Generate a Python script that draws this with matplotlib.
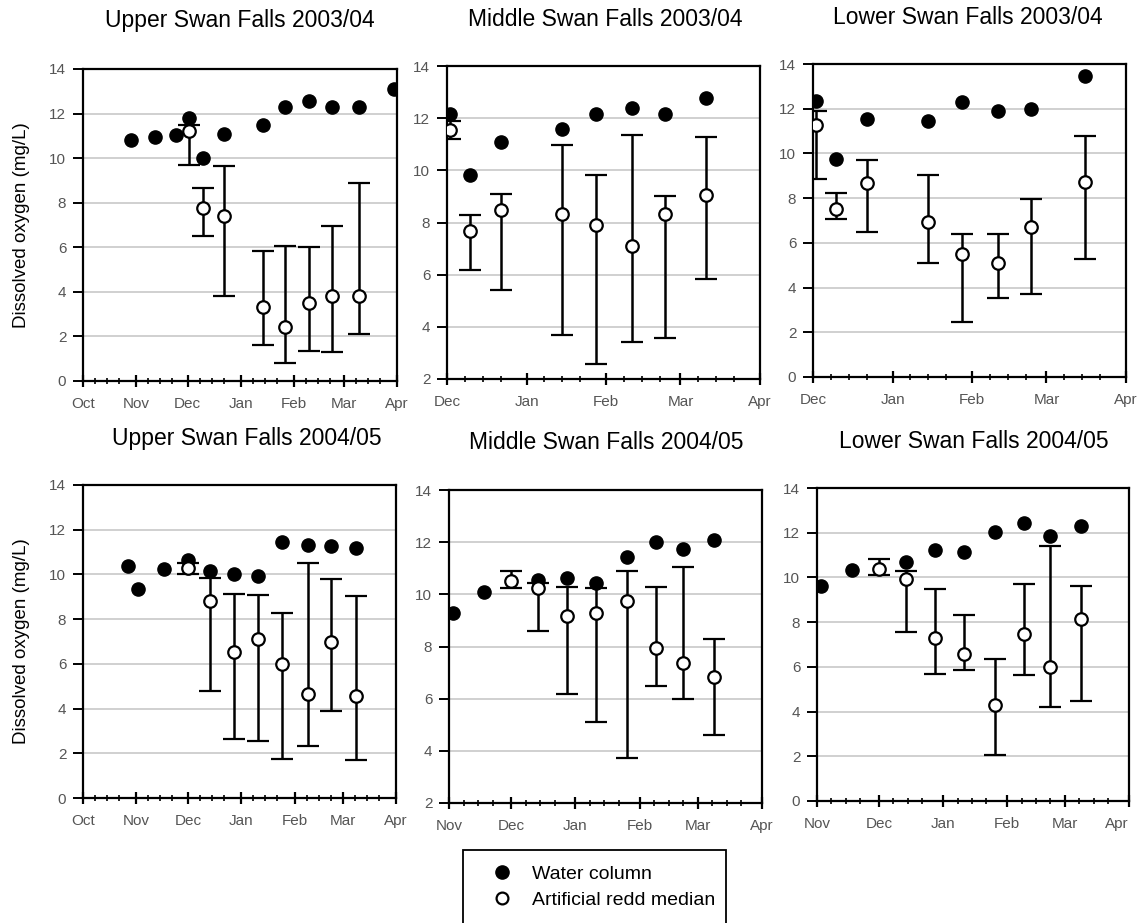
import numpy as np
import pandas as pd
import matplotlib
matplotlib.use('Agg')
import matplotlib.pyplot as plt
import matplotlib.dates as mdates
from matplotlib.lines import Line2D
from matplotlib.patches import Rectangle

plt.rcParams['font.family'] = ['Liberation Sans', 'DejaVu Sans']

# Upper Swan Falls 2003/04
us1_wc_dates = ['2003-10-29', '2003-11-12', '2003-11-24', '2003-12-02', '2003-12-10', '2003-12-22',
                '2004-01-14', '2004-01-27', '2004-02-10', '2004-02-23', '2004-03-10', '2004-03-30']
us1_wc = [10.8, 10.95, 11.05, 11.8, 10.0, 11.1, 11.5, 12.28, 12.55, 12.28, 12.28, 13.1]
us1_rd_dates = ['2003-12-02', '2003-12-10', '2003-12-22', '2004-01-14', '2004-01-27', '2004-02-10',
                '2004-02-23', '2004-03-10']
us1_rd = [11.2, 7.75, 7.42, 3.33, 2.43, 3.48, 3.81, 3.81]
us1_lo = [9.7, 6.5, 3.82, 1.62, 0.8, 1.36, 1.3, 2.1]
us1_hi = [11.5, 8.68, 9.65, 5.83, 6.07, 6.0, 6.97, 8.9]

# Middle Swan Falls 2003/04
ms1_wc_dates = ['2003-12-02', '2003-12-10', '2003-12-22', '2004-01-15', '2004-01-28', '2004-02-11',
                '2004-02-24', '2004-03-11']
ms1_wc = [12.17, 9.84, 11.1, 11.6, 12.15, 12.39, 12.17, 12.77]
ms1_rd_dates = ms1_wc_dates
ms1_rd = [11.54, 7.66, 8.47, 8.31, 7.92, 7.11, 8.32, 9.05]
ms1_lo = [11.19, 6.17, 5.42, 3.67, 2.59, 3.43, 3.58, 5.83]
ms1_hi = [11.9, 8.29, 9.09, 10.99, 9.81, 11.35, 9.01, 11.28]

# Lower Swan Falls 2003/04
ls1_wc_dates = ['2003-12-02', '2003-12-10', '2003-12-22', '2004-01-15', '2004-01-28', '2004-02-11',
                '2004-02-24', '2004-03-16']
ls1_wc = [12.36, 9.76, 11.53, 11.47, 12.3, 11.91, 12.0, 13.45]
ls1_rd_dates = ls1_wc_dates
ls1_rd = [11.28, 7.5, 8.67, 6.92, 5.51, 5.11, 6.72, 8.7]
ls1_lo = [8.85, 7.07, 6.5, 5.11, 2.44, 3.54, 3.71, 5.3]
ls1_hi = [11.9, 8.25, 9.71, 9.02, 6.38, 6.39, 7.98, 10.76]

# Upper Swan Falls 2004/05
us2_wc_dates = ['2004-10-27', '2004-11-02', '2004-11-17', '2004-12-01', '2004-12-14', '2004-12-28',
                '2005-01-11', '2005-01-25', '2005-02-09', '2005-02-22', '2005-03-09']
us2_wc = [10.37, 9.33, 10.24, 10.64, 10.16, 10.01, 9.91, 11.45, 11.3, 11.25, 11.16]
us2_rd_dates = ['2004-12-01', '2004-12-14', '2004-12-28', '2005-01-11', '2005-01-25', '2005-02-09',
                '2005-02-22', '2005-03-09']
us2_rd = [10.27, 8.82, 6.55, 7.12, 5.99, 4.64, 6.96, 4.55]
us2_lo = [10.0, 4.79, 2.64, 2.54, 1.76, 2.31, 3.91, 1.69]
us2_hi = [10.5, 9.82, 9.13, 9.07, 8.28, 10.49, 9.78, 9.03]

# Middle Swan Falls 2004/05
ms2_wc_dates = ['2004-11-03', '2004-11-18', '2004-12-14', '2004-12-28', '2005-01-11', '2005-01-26',
                '2005-02-09', '2005-02-22', '2005-03-09']
ms2_wc = [9.29, 10.1, 10.55, 10.62, 10.42, 11.42, 12.02, 11.75, 12.07]
ms2_rd_dates = ['2004-12-01', '2004-12-14', '2004-12-28', '2005-01-11', '2005-01-26', '2005-02-09',
                '2005-02-22', '2005-03-09']
ms2_rd = [10.51, 10.23, 9.18, 9.27, 9.75, 7.95, 7.35, 6.84]
ms2_lo = [10.23, 8.6, 6.17, 5.12, 3.73, 6.5, 5.99, 4.6]
ms2_hi = [10.89, 10.45, 10.29, 10.25, 10.89, 10.29, 11.06, 8.29]

# Lower Swan Falls 2004/05
ls2_wc_dates = ms2_wc_dates
ls2_wc = [9.63, 10.34, 10.69, 11.24, 11.13, 12.04, 12.43, 11.84, 12.28]
ls2_rd_dates = ms2_rd_dates
ls2_rd = [10.37, 9.94, 7.28, 6.57, 4.3, 7.46, 5.99, 8.13]
ls2_lo = [10.09, 7.54, 5.7, 5.84, 2.06, 5.64, 4.19, 4.49]
ls2_hi = [10.82, 10.3, 9.48, 8.3, 6.37, 9.72, 11.39, 9.6]

legend_labels = ['Water column', 'Artificial redd median']

panels = [
    ('Upper Swan Falls 2003/04', us1_wc_dates, us1_wc, us1_rd_dates, us1_rd, us1_lo, us1_hi,
     ('2003-10-01', '2004-04-01'), 0, (83, 69, 397, 381), (240, 21)),
    ('Middle Swan Falls 2003/04', ms1_wc_dates, ms1_wc, ms1_rd_dates, ms1_rd, ms1_lo, ms1_hi,
     ('2003-12-01', '2004-04-01'), 2, (447, 66, 760, 379), (605, 20)),
    ('Lower Swan Falls 2003/04', ls1_wc_dates, ls1_wc, ls1_rd_dates, ls1_rd, ls1_lo, ls1_hi,
     ('2003-12-01', '2004-04-01'), 0, (813, 64, 1126, 377), (968, 17)),
    ('Upper Swan Falls 2004/05', us2_wc_dates, us2_wc, us2_rd_dates, us2_rd, us2_lo, us2_hi,
     ('2004-10-01', '2005-04-01'), 0, (83, 485, 396, 798), (247, 438)),
    ('Middle Swan Falls 2004/05', ms2_wc_dates, ms2_wc, ms2_rd_dates, ms2_rd, ms2_lo, ms2_hi,
     ('2004-11-01', '2005-04-01'), 2, (449, 490, 762, 803), (606, 443)),
    ('Lower Swan Falls 2004/05', ls2_wc_dates, ls2_wc, ls2_rd_dates, ls2_rd, ls2_lo, ls2_hi,
     ('2004-11-01', '2005-04-01'), 0, (817, 488, 1129, 801), (974, 442)),
]

W, H = 1137, 923
fig = plt.figure(figsize=(W / 100, H / 100), dpi=100)

for i, (title, wd, wv, rd, rv, lo, hi, xl, ymin, box, tpos) in enumerate(panels):
    l, t, r, b = box
    ax = fig.add_axes([l / W, 1 - b / H, (r - l) / W, (b - t) / H])
    ax.grid(axis='y', color='#c4c4c4', linewidth=1.1)
    ax.set_axisbelow(True)

    ax.plot(pd.to_datetime(wd), wv, 'o', color='black', markersize=9.5, zorder=3)
    rv = np.array(rv)
    yerr = [rv - np.array(lo), np.array(hi) - rv]
    ax.errorbar(pd.to_datetime(rd), rv, yerr=yerr, fmt='o', mfc='white', mec='black', mew=1.6,
                markersize=9, ecolor='black', elinewidth=1.8, capsize=8, capthick=1.8, zorder=4)

    ax.set_xlim(pd.Timestamp(xl[0]), pd.Timestamp(xl[1]))
    ax.set_ylim(ymin, 14)
    ax.set_yticks(np.arange(ymin, 15, 2))
    ax.xaxis.set_major_locator(mdates.MonthLocator())
    ax.xaxis.set_major_formatter(mdates.DateFormatter('%b'))
    ax.xaxis.set_minor_locator(mdates.DayLocator(bymonthday=[8, 15, 22]))
    ax.tick_params(axis='x', which='major', direction='inout', length=9, width=1.6,
                   labelsize=11, labelcolor='#555555', pad=7)
    ax.tick_params(axis='x', which='minor', direction='inout', length=5, width=1.2)
    ax.tick_params(axis='y', direction='out', length=7, width=1.4, labelsize=11,
                   labelcolor='#555555', pad=5)
    for s in ax.spines.values():
        s.set_linewidth(1.6)
    if i in (0, 3):
        fig.text(22 / W, 1 - (t + b) / 2 / H, 'Dissolved oxygen (mg/L)', rotation=90,
                 ha='center', va='center', fontsize=13.5)
    fig.text(tpos[0] / W, 1 - tpos[1] / H, title, ha='center', va='center', fontsize=16.5)
    if i == 5:
        fig.canvas.draw()
        ax.get_xticklabels()[-1].set_horizontalalignment('right')

fig.add_artist(Rectangle((463 / W, -0.05), (726 - 463) / W, 0.05 + 1 - 850 / H,
                         transform=fig.transFigure, fill=False, edgecolor='black', linewidth=1.3))
handles = [
    Line2D([], [], marker='o', linestyle='none', color='black', markersize=9.5),
    Line2D([], [], marker='o', linestyle='none', mfc='white', mec='black', mew=1.6, markersize=8.5),
]
fig.legend(handles, legend_labels, loc='upper left', bbox_to_anchor=(487 / W, 1 - 865 / H),
           fontsize=14, frameon=False, borderpad=0, borderaxespad=0, handletextpad=0.8,
           labelspacing=0.45, handlelength=1.5)

plt.savefig('out.png', dpi=100)
